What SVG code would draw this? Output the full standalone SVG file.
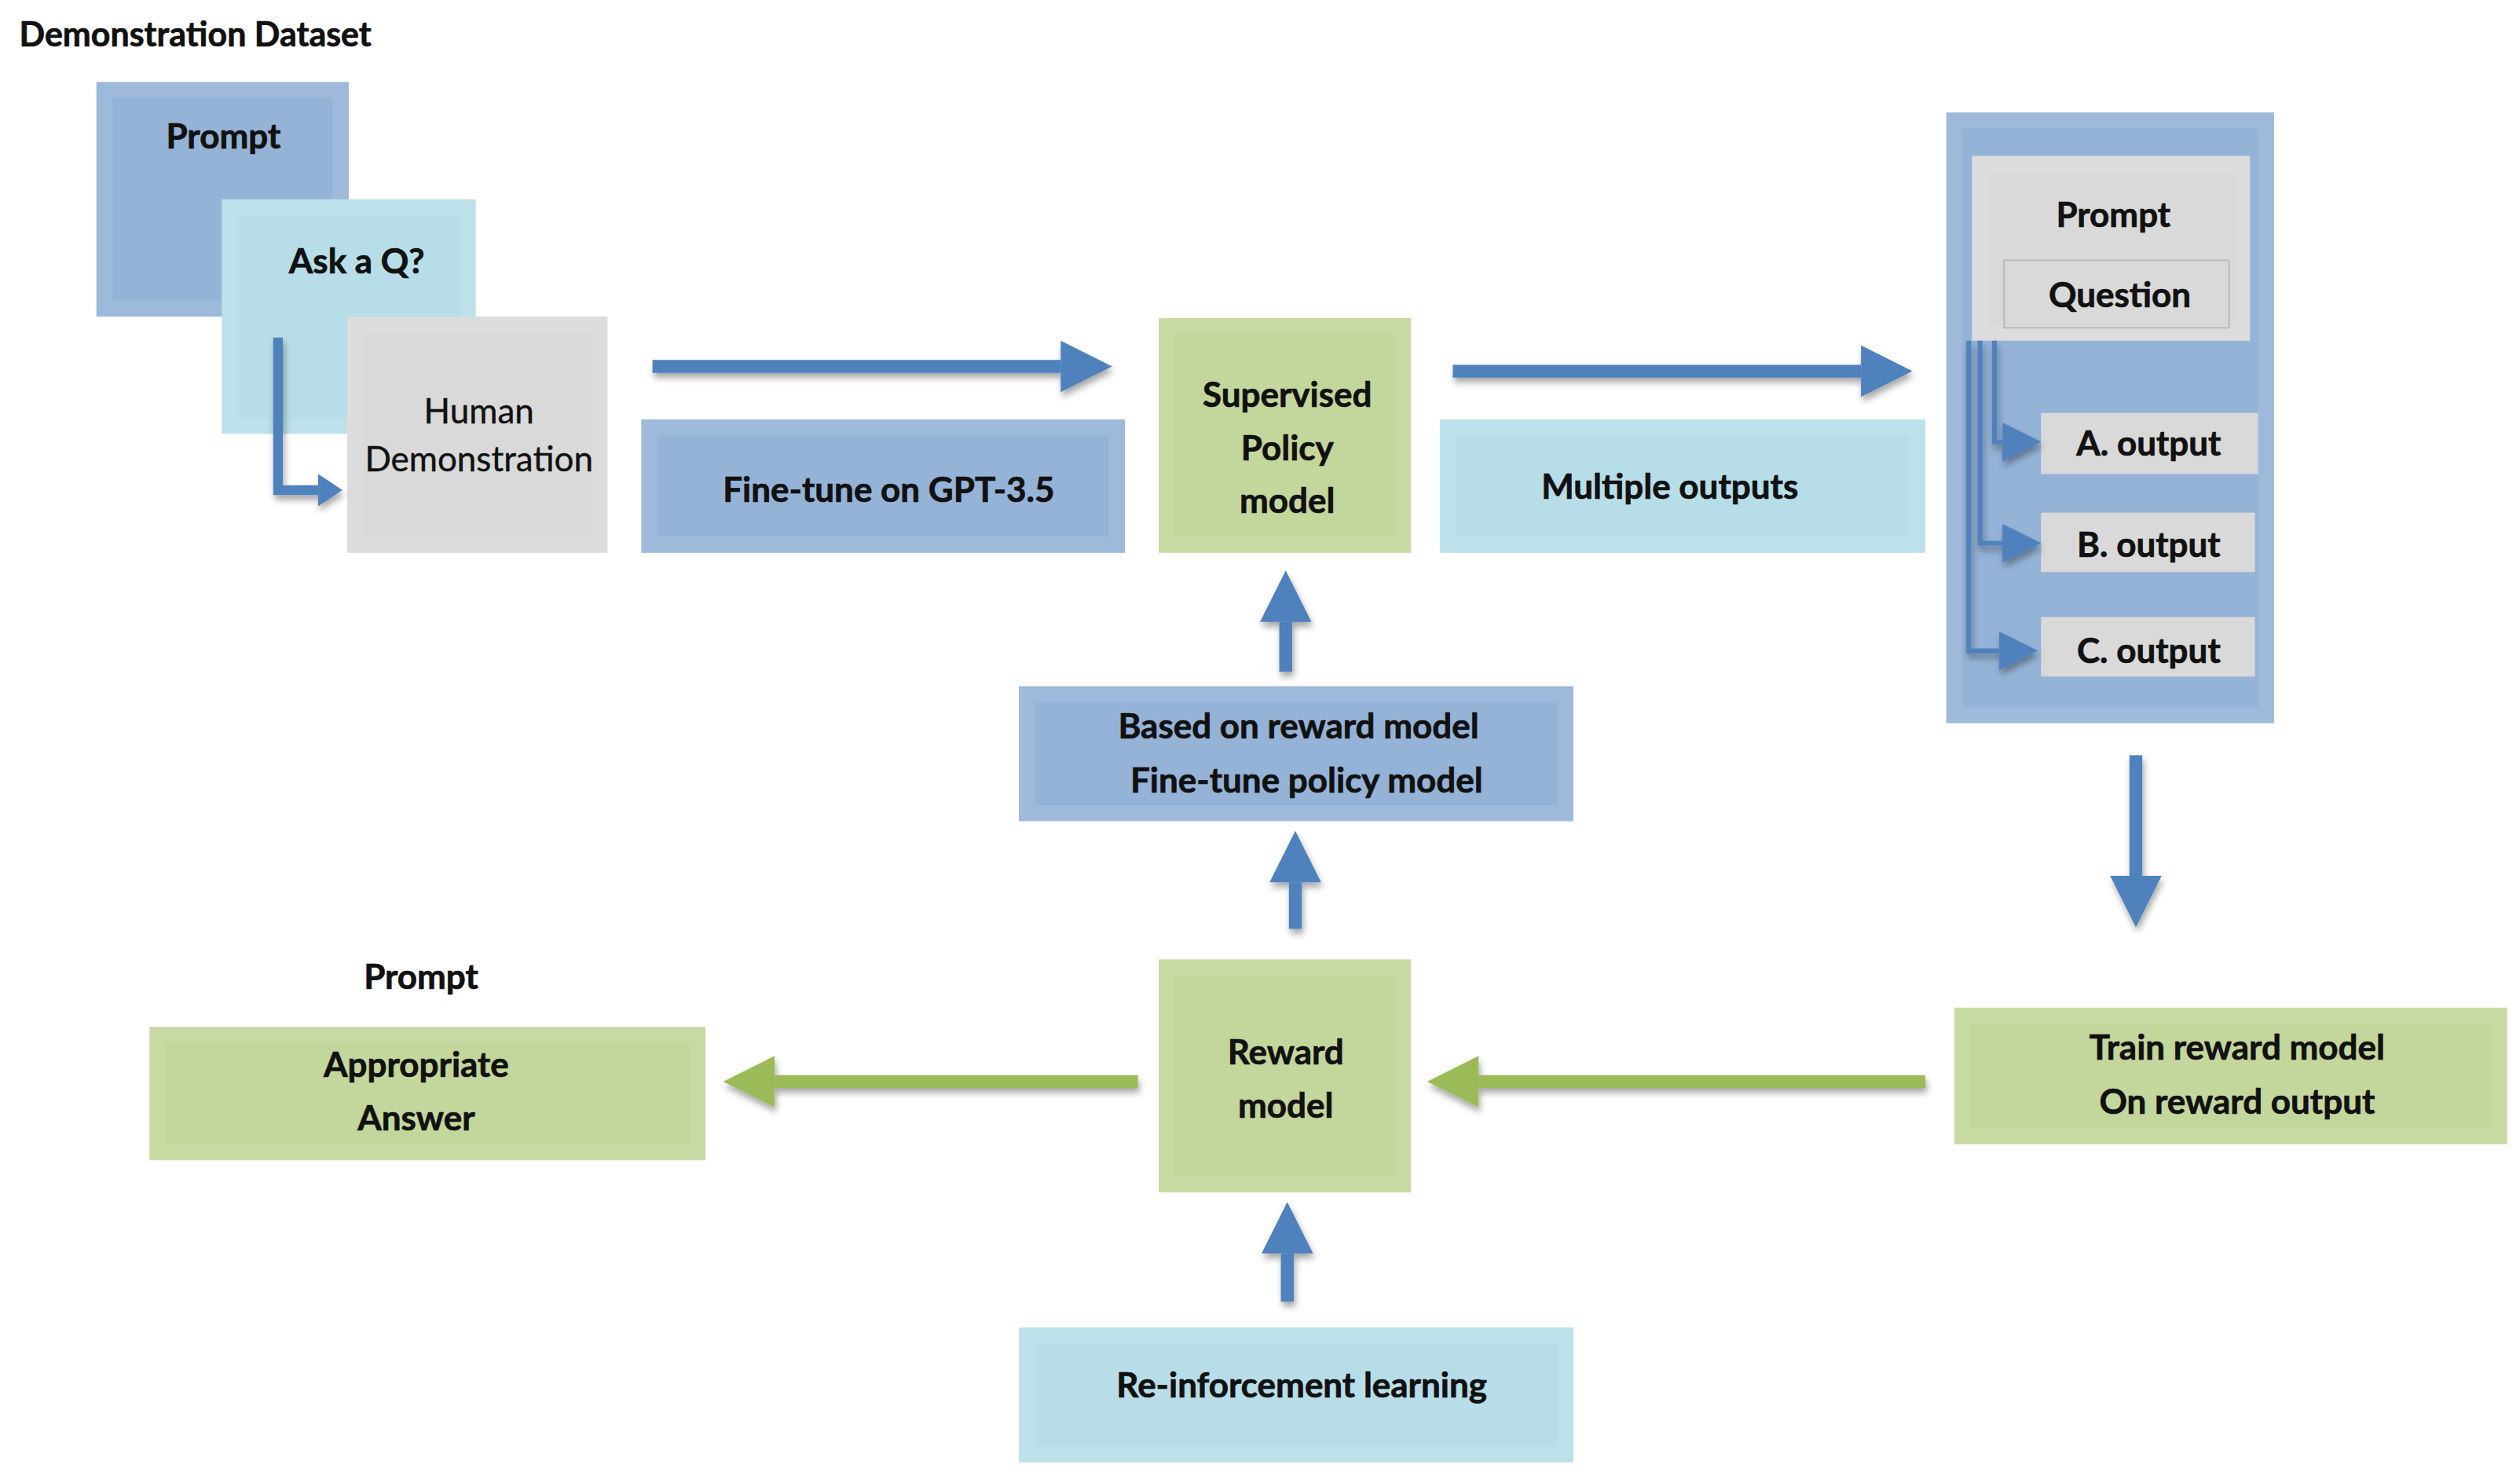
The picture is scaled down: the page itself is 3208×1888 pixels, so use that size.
<svg xmlns="http://www.w3.org/2000/svg" width="3208" height="1888" viewBox="0 0 3208 1888">
<style>
text{font-family:Lato,"Open Sans","Liberation Sans",sans-serif;font-weight:700;font-size:21.5px;fill:#111;stroke:#111;stroke-width:0.35;text-anchor:middle;dominant-baseline:central}
.reg{font-weight:400;stroke-width:0.2}
.b{fill:#95b3d7}.lb{fill:#b7dee8}.g{fill:#d9d9d9}.gr{fill:#c3d69b}
.bev{fill:none;stroke:#fff;stroke-opacity:0.09;stroke-width:10}
.ab{stroke:#4f81bd;stroke-width:8;fill:none;marker-end:url(#hb)}
.ag{stroke:#9bbb59;stroke-width:8;fill:none;marker-end:url(#hg)}
.at{stroke:#4f81bd;stroke-width:3;fill:none;marker-end:url(#ht)}
</style>
<defs>
<marker id="hb" markerUnits="strokeWidth" markerWidth="4" markerHeight="4" refX="0" refY="2" orient="auto" overflow="visible"><path d="M0,0 L4,2 L0,4 Z" fill="#4f81bd"/></marker>
<marker id="hg" markerUnits="strokeWidth" markerWidth="4" markerHeight="4" refX="0" refY="2" orient="auto" overflow="visible"><path d="M0,0 L4,2 L0,4 Z" fill="#9bbb59"/></marker>
<marker id="ht" markerUnits="strokeWidth" markerWidth="8" markerHeight="8" refX="0" refY="4" orient="auto" overflow="visible"><path d="M0,0 L8,4 L0,8 Z" fill="#4f81bd"/></marker>
<filter id="sh" x="-20%" y="-20%" width="140%" height="160%"><feDropShadow dx="1" dy="3" stdDeviation="2" flood-opacity="0.35"/></filter>
</defs>
<rect width="3208" height="1888" fill="#fff"/>
<g transform="scale(2.0459)">
<text x="12" y="21" style="text-anchor:start;font-size:21px">Demonstration Dataset</text>
<g id="prompt1"><rect class="b" x="60" y="51" width="157" height="146"/><rect class="bev" x="65" y="56" width="147" height="136"/><text x="139" y="84">Prompt</text></g>
<g id="askq"><rect class="lb" x="138" y="124" width="158" height="146"/><rect class="bev" x="143" y="129" width="148" height="136"/><text x="222" y="162">Ask a Q?</text></g>
<g id="human"><rect class="g" x="216" y="197" width="162" height="147"/><rect class="bev" x="221" y="202" width="152" height="137"/><text class="reg" x="298" y="255">Human</text><text class="reg" x="298" y="285">Demonstration</text></g>
<g id="finetune"><rect class="b" x="399" y="261" width="301" height="83"/><rect class="bev" x="404" y="266" width="291" height="73"/><text x="553" y="304">Fine-tune on GPT-3.5</text></g>
<g id="sft"><rect class="gr" x="721" y="198" width="157" height="146"/><rect class="bev" x="726" y="203" width="147" height="136"/><text x="801" y="245">Supervised</text><text x="801" y="278">Policy</text><text x="801" y="311">model</text></g>
<g id="multi"><rect class="lb" x="896" y="261" width="302" height="83"/><rect class="bev" x="901" y="266" width="292" height="73"/><text x="1039" y="302">Multiple outputs</text></g>
<g id="container"><rect class="b" x="1211" y="70" width="204" height="380"/><rect class="bev" x="1216" y="75" width="194" height="370"/>
<rect class="g" x="1227" y="97" width="173" height="115"/><rect class="bev" x="1232" y="102" width="163" height="105"/><text x="1315" y="133">Prompt</text>
<rect x="1247" y="162" width="140" height="42" fill="#d9d9d9" stroke="#bbb" stroke-width="1"/><text x="1319" y="183">Question</text></g>
<g id="outA"><rect class="g" x="1270" y="257" width="135" height="38"/><text x="1337" y="275">A. output</text></g>
<g id="outB"><rect class="g" x="1270" y="319" width="133" height="37"/><text x="1337" y="338">B. output</text></g>
<g id="outC"><rect class="g" x="1270" y="384" width="133" height="37"/><text x="1337" y="404">C. output</text></g>
<g id="based"><rect class="b" x="634" y="427" width="345" height="84"/><rect class="bev" x="639" y="432" width="335" height="74"/><text x="808" y="451">Based on reward model</text><text x="813" y="485">Fine-tune policy model</text></g>
<g id="train"><rect class="gr" x="1216" y="627" width="344" height="85"/><rect class="bev" x="1221" y="632" width="334" height="75"/><text x="1392" y="651">Train reward model</text><text x="1392" y="685">On reward output</text></g>
<g id="reward"><rect class="gr" x="721" y="597" width="157" height="145"/><rect class="bev" x="726" y="602" width="147" height="135"/><text x="800" y="654">Reward</text><text x="800" y="687">model</text></g>
<g id="answer"><text x="262" y="607">Prompt</text><rect class="gr" x="93" y="639" width="346" height="83"/><rect class="bev" x="98" y="644" width="336" height="73"/><text x="259" y="662">Appropriate</text><text x="259" y="695">Answer</text></g>
<g id="rl"><rect class="lb" x="634" y="826" width="345" height="84"/><rect class="bev" x="639" y="831" width="335" height="74"/><text x="810" y="861">Re-inforcement learning</text></g>
<g id="connectors" filter="url(#sh)">
<path d="M173,210 V305 H198" stroke="#4f81bd" stroke-width="6" fill="none"/>
<path d="M198,295 L213,305 L198,315 Z" fill="#4f81bd"/>
<path class="ab" d="M406,228 H660"/>
<path class="ab" d="M904,231 H1158"/>
<path class="at" d="M1241,212 V275 H1246"/>
<path class="at" d="M1232,212 V338 H1246"/>
<path class="at" d="M1225,212 V405 H1244"/>
<path class="ab" d="M1329,470 V545"/>
<path class="ag" d="M1198,673 H920"/>
<path class="ag" d="M708,673 H482"/>
<path class="ab" d="M801,810 V780"/>
<path class="ab" d="M806,578 V549"/>
<path class="ab" d="M800,418 V387"/>
</g>
</g>
</svg>
